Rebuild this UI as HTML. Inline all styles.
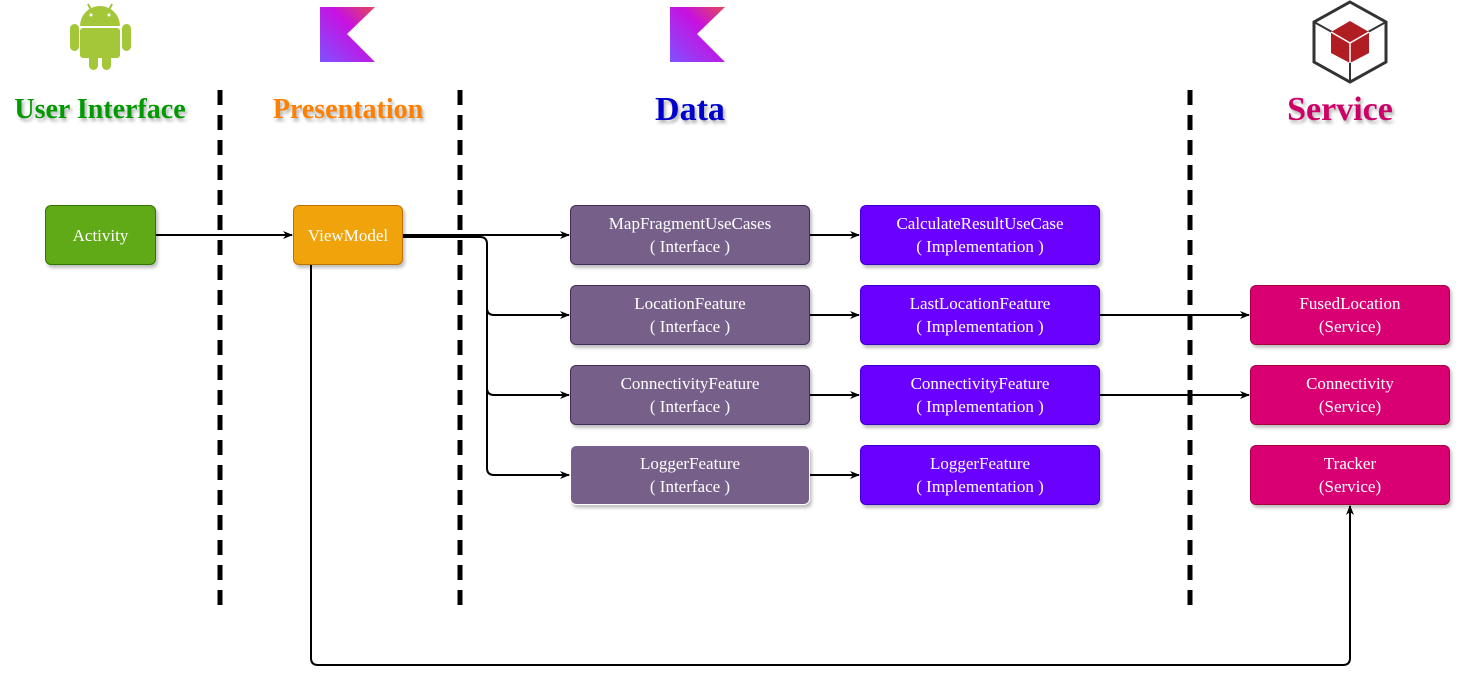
<!DOCTYPE html>
<html><head><meta charset="utf-8"><style>
body{margin:0;width:1462px;height:687px;background:#fff;position:relative;overflow:hidden;font-family:"Liberation Serif",serif}
.b{position:absolute;border-radius:6px;color:#fff;font-size:17px;text-align:center;display:flex;align-items:center;justify-content:center;line-height:23px;box-sizing:border-box;box-shadow:2px 3px 3px rgba(0,0,0,.25)}
.t{position:absolute;font-weight:bold;text-shadow:2px 3px 3px rgba(0,0,0,.3);transform:translate(-50%,-50%);top:110px;white-space:nowrap;line-height:1}
.i{background:#76608a;border:1px solid #432d57}
.m{background:#6a00ff;border:1px solid #3700cc}
.s{background:#d80073;border:1px solid #a50040}
</style></head><body>
<svg width="1462" height="687" style="position:absolute;left:0;top:0">
<defs>
<linearGradient id="k" x1="0" y1="1" x2="1" y2="0"><stop offset="0" stop-color="#7f52ff"/><stop offset=".6" stop-color="#c711e1"/><stop offset="1" stop-color="#e44857"/></linearGradient>
<marker id="a" markerWidth="10" markerHeight="10" refX="9" refY="5" orient="auto" markerUnits="userSpaceOnUse"><path d="M0,1 L10,5 L0,9 L3,5z" fill="#000"/></marker>
</defs>
<g stroke="#000" stroke-width="5" stroke-dasharray="15,10">
<line x1="220" y1="90" x2="220" y2="615"/><line x1="460" y1="90" x2="460" y2="615"/><line x1="1190" y1="90" x2="1190" y2="615"/>
</g>
<g fill="#a4c639">
<path d="M80,26 a20,20 0 0 1 40,0z"/>
<rect x="80" y="28" width="40" height="30" rx="3"/>
<rect x="70" y="24" width="9" height="27" rx="4.5"/><rect x="122" y="24" width="9" height="27" rx="4.5"/>
<rect x="89" y="50" width="9" height="20" rx="4.5"/><rect x="102" y="50" width="9" height="20" rx="4.5"/>
<line x1="88" y1="4" x2="92" y2="12" stroke="#a4c639" stroke-width="2"/><line x1="112" y1="4" x2="108" y2="12" stroke="#a4c639" stroke-width="2"/>
</g>
<circle cx="91" cy="15" r="1.5" fill="#fff"/><circle cx="109" cy="15" r="1.5" fill="#fff"/>
<path d="M320,7 H375 L347,34 L375,62 H320z" fill="url(#k)"/>
<path d="M670,7 H725 L697,34 L725,62 H670z" fill="url(#k)"/>
<path d="M1350,2 L1386,22 V62 L1350,82 L1314,62 V22z" fill="none" stroke="#333" stroke-width="3"/>
<path d="M1314,22 L1332,32 M1386,22 L1368,32 M1350,82 V62" stroke="#333" stroke-width="2"/>
<path d="M1350,21 L1369,32 V53 L1350,63 L1331,53 V32z" fill="#b01d23"/>
<path d="M1331,32 L1350,43 L1369,32 M1350,43 V63" stroke="#fff" stroke-width="1.5" fill="none"/>
<g stroke="#000" stroke-width="2" fill="none">
<line x1="156" y1="235" x2="292" y2="235" marker-end="url(#a)"/>
<line x1="403" y1="235" x2="569" y2="235" marker-end="url(#a)"/>
<path d="M403,237 H480 Q487,237 487,244 V308 Q487,315 494,315 H569" marker-end="url(#a)"/>
<path d="M487,300 V388 Q487,395 494,395 H569" marker-end="url(#a)"/>
<path d="M487,380 V468 Q487,475 494,475 H569" marker-end="url(#a)"/>
<line x1="810" y1="235" x2="859" y2="235" marker-end="url(#a)"/>
<line x1="810" y1="315" x2="859" y2="315" marker-end="url(#a)"/>
<line x1="810" y1="395" x2="859" y2="395" marker-end="url(#a)"/>
<line x1="810" y1="475" x2="859" y2="475" marker-end="url(#a)"/>
<line x1="1100" y1="315" x2="1249" y2="315" marker-end="url(#a)"/>
<line x1="1100" y1="395" x2="1249" y2="395" marker-end="url(#a)"/>
<path d="M311,265 V658 Q311,665 318,665 H1343 Q1350,665 1350,658 V506" marker-end="url(#a)"/>
</g>
</svg>
<div class="t" style="left:100px;color:#009900;font-size:28px">User Interface</div>
<div class="t" style="left:348px;color:#ff8000;font-size:28px">Presentation</div>
<div class="t" style="left:690px;color:#0000cc;font-size:34px">Data</div>
<div class="t" style="left:1340px;color:#cc0066;font-size:34px">Service</div>
<div class="b" style="left:45px;top:205px;width:111px;height:60px;background:#60a917;border:1px solid #2d7600">Activity</div>
<div class="b" style="left:293px;top:205px;width:110px;height:60px;background:#f0a30a;border:1px solid #bd7000">ViewModel</div>
<div class="b i" style="left:570px;top:205px;width:240px;height:60px">MapFragmentUseCases<br>( Interface )</div>
<div class="b i" style="left:570px;top:285px;width:240px;height:60px">LocationFeature<br>( Interface )</div>
<div class="b i" style="left:570px;top:365px;width:240px;height:60px">ConnectivityFeature<br>( Interface )</div>
<div class="b i" style="left:570px;top:445px;width:240px;height:60px;border-color:#fff">LoggerFeature<br>( Interface )</div>
<div class="b m" style="left:860px;top:205px;width:240px;height:60px">CalculateResultUseCase<br>( Implementation )</div>
<div class="b m" style="left:860px;top:285px;width:240px;height:60px">LastLocationFeature<br>( Implementation )</div>
<div class="b m" style="left:860px;top:365px;width:240px;height:60px">ConnectivityFeature<br>( Implementation )</div>
<div class="b m" style="left:860px;top:445px;width:240px;height:60px">LoggerFeature<br>( Implementation )</div>
<div class="b s" style="left:1250px;top:285px;width:200px;height:60px">FusedLocation<br>(Service)</div>
<div class="b s" style="left:1250px;top:365px;width:200px;height:60px">Connectivity<br>(Service)</div>
<div class="b s" style="left:1250px;top:445px;width:200px;height:60px">Tracker<br>(Service)</div>
</body></html>
